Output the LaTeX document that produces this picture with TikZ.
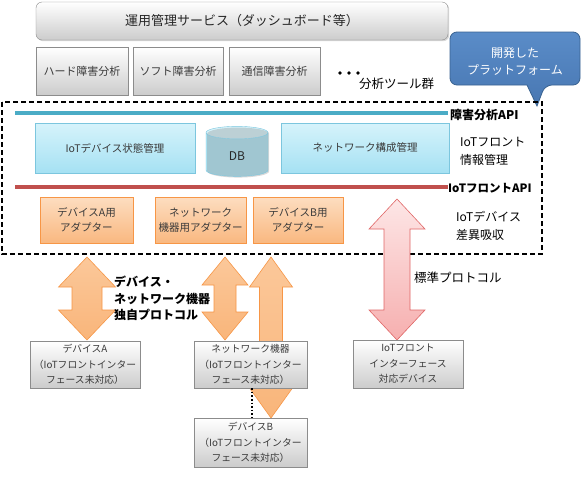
\documentclass[tikz,border=0pt]{standalone}
\usepackage{fontspec}
\setmainfont{Noto Sans CJK JP}
\usetikzlibrary{shapes.geometric,shadows}
\definecolor{grayborder}{HTML}{8C8C8C}
\definecolor{graybot}{HTML}{CCCCCC}
\definecolor{graytext}{HTML}{3A3A3A}
\definecolor{cyantop}{HTML}{D6F3FB}
\definecolor{cyanbot}{HTML}{A5E1F3}
\definecolor{cyanborder}{HTML}{7CC6DE}
\definecolor{orgtop}{HTML}{FDDDC0}
\definecolor{orgbot}{HTML}{F9B880}
\definecolor{orgborder}{HTML}{F79646}
\definecolor{arrtop}{HTML}{FBC89A}
\definecolor{arrbot}{HTML}{F9B57A}
\definecolor{redtop}{HTML}{FDE6E6}
\definecolor{redbot}{HTML}{F6AFAF}
\definecolor{redborder}{HTML}{E06666}
\definecolor{calltop}{HTML}{5A8CC8}
\definecolor{callbot}{HTML}{4877B2}
\definecolor{callborder}{HTML}{3A6391}
\definecolor{apiblue}{HTML}{4BACC6}
\definecolor{apired}{HTML}{C0504D}
\newcommand\fatarrow[7]{%
  \path[#7] (#1,#2) -- ({#1+#5},{#2+#6}) -- ({#1+#4},{#2+#6}) -- ({#1+#4},{#3-#6})
    -- ({#1+#5},{#3-#6}) -- (#1,#3) -- ({#1-#5},{#3-#6}) -- ({#1-#4},{#3-#6})
    -- ({#1-#4},{#2+#6}) -- ({#1-#5},{#2+#6}) -- cycle;}
\tikzset{
  shad/.style={drop shadow={shadow xshift=1.2pt,shadow yshift=-1.2pt,opacity=.3}},
  gbox/.style={draw=grayborder, top color=white, bottom color=graybot, text=graytext,
    align=center, inner sep=1pt, shad, font=\fontsize{9.8}{15.5}\selectfont},
  toolbox/.style={gbox, font=\fontsize{11}{14}\selectfont},
  cbox/.style={draw=cyanborder, top color=cyantop, bottom color=cyanbot, text=graytext,
    align=center, shad, font=\fontsize{10.5}{14}\selectfont},
  obox/.style={draw=orgborder, top color=orgtop, bottom color=orgbot, text=graytext,
    align=center, inner sep=1pt, shad, font=\fontsize{10.5}{15}\selectfont},
  oarrow/.style={draw=orgborder, line width=0.6pt, top color=arrtop, bottom color=arrbot},
  rarrow/.style={draw=redborder, line width=0.6pt, top color=redtop, bottom color=redbot},
  lbl/.style={font=\fontsize{12}{18}\selectfont, align=left, inner sep=0pt},
  bold/.style={font=\bfseries\fontsize{12}{16.5}\selectfont, align=left, inner sep=0pt},
  apiline/.style={line width=3.5pt},
  callout/.style={draw=callborder, line width=0.8pt, top color=calltop, bottom color=callbot}
}
\begin{document}
\begin{tikzpicture}[x=1pt,y=-1pt]
\useasboundingbox (0,0) rectangle (582,480);
\fill[white] (0,0) rectangle (582,480);

% top service box
\node[gbox, rounded corners=6, minimum width=412, minimum height=38,
  font=\fontsize{13}{16}\selectfont, text=black!85] (ops) at (242,21) {運用管理サービス（ダッシュボード等）};

% analysis tools
\node[toolbox, minimum width=92, minimum height=48] (hw) at (82,71) {ハード障害分析};
\node[toolbox, minimum width=90, minimum height=48] (sw) at (178,71) {ソフト障害分析};
\node[toolbox, minimum width=91, minimum height=48] (net) at (274.5,71) {通信障害分析};
\fill (340,73) circle (1.8) (349,73) circle (1.8) (358,73) circle (1.8);
\node[lbl, anchor=west, font=\fontsize{12.5}{16}\selectfont] (tools) at (359,84) {分析ツール群};

% callout
\path[callout, rounded corners=7] (500,85) -- (450,85) -- (450,32) -- (580,32) -- (580,85)
  -- (545,85) [sharp corners] -- (537,106) -- (527,85) -- cycle;
\node[font=\fontsize{12}{17}\selectfont, text=white, align=center] (dev) at (515,61) {開発した\\プラットフォーム};

% platform frame
\draw[line width=1.6pt, dash pattern=on 5pt off 3pt] (2,102) rectangle (542,254);

% API lines
\coordinate (b1) at (15,113); \coordinate (b2) at (448,113);
\draw[apiline, apiblue] (b1) -- (b2);
\node[bold, anchor=west] (api1) at (450,115) {障害分析API};
\coordinate (r1) at (15,187); \coordinate (r2) at (448,187);
\draw[apiline, apired] (r1) -- (r2);
\node[bold, anchor=west, font=\bfseries\fontsize{11.5}{14}\selectfont] (api2) at (448,188) {IoTフロントAPI};

% info management
\node[cbox, minimum width=160, minimum height=50] (state) at (115,148) {IoTデバイス状態管理};
\node[cylinder, shape border rotate=90, aspect=0.55, minimum width=62, minimum height=50,
  draw=cyanborder, cylinder uses custom fill, cylinder body fill=cyanbot!80!cyantop,
  cylinder end fill=cyantop, shad, font=\fontsize{12}{14}\selectfont, text=black!85] (db) at (237,156) {DB};
\node[cbox, minimum width=168, minimum height=50] (topo) at (365,148) {ネットワーク構成管理};
\node[lbl, anchor=west] (info) at (460,151) {IoTフロント\\情報管理};

% adapters
\node[obox, minimum width=93, minimum height=46] (adA) at (86.5,220) {デバイスA用\\アダプター};
\node[obox, minimum width=91, minimum height=46] (adN) at (200.5,220) {ネットワーク\\機器用アダプター};
\node[obox, minimum width=90, minimum height=46] (adB) at (298,220) {デバイスB用\\アダプター};
\node[lbl, anchor=west] (diff) at (456,226) {IoTデバイス\\差異吸収};

% fat arrows
\fatarrow{87}{257}{340}{15}{28.5}{30}{oarrow}
\fatarrow{225}{257}{340}{11}{23}{28}{oarrow}
\fatarrow{271}{257}{418}{11.5}{21.5}{30}{oarrow}
\fatarrow{397}{199}{340}{13}{28}{30}{rarrow}

\node[bold, anchor=west] (prop) at (114,298.5) {デバイス・\\ネットワーク機器\\独自プロトコル};
\node[lbl, anchor=west, font=\fontsize{12.5}{16}\selectfont] (std) at (414,278) {標準プロトコル};

% devices
\node[gbox, minimum width=110, minimum height=47] (devA) at (85,364.5) {デバイスA\\（IoTフロントインター\\フェース未対応）};
\node[gbox, minimum width=113, minimum height=47] (netdev) at (250.5,364.5) {ネットワーク機器\\（IoTフロントインター\\フェース未対応）};
\node[gbox, minimum width=110, minimum height=48] (stddev) at (408,364) {IoTフロント\\インターフェース\\対応デバイス};
\node[gbox, minimum width=113, minimum height=49] (devB) at (250.5,442.5) {デバイスB\\（IoTフロントインター\\フェース未対応）};
\draw[line width=1.6pt, dotted] ([xshift=1.5pt]netdev.south) -- ([xshift=1.5pt]devB.north);
\end{tikzpicture}
\end{document}
